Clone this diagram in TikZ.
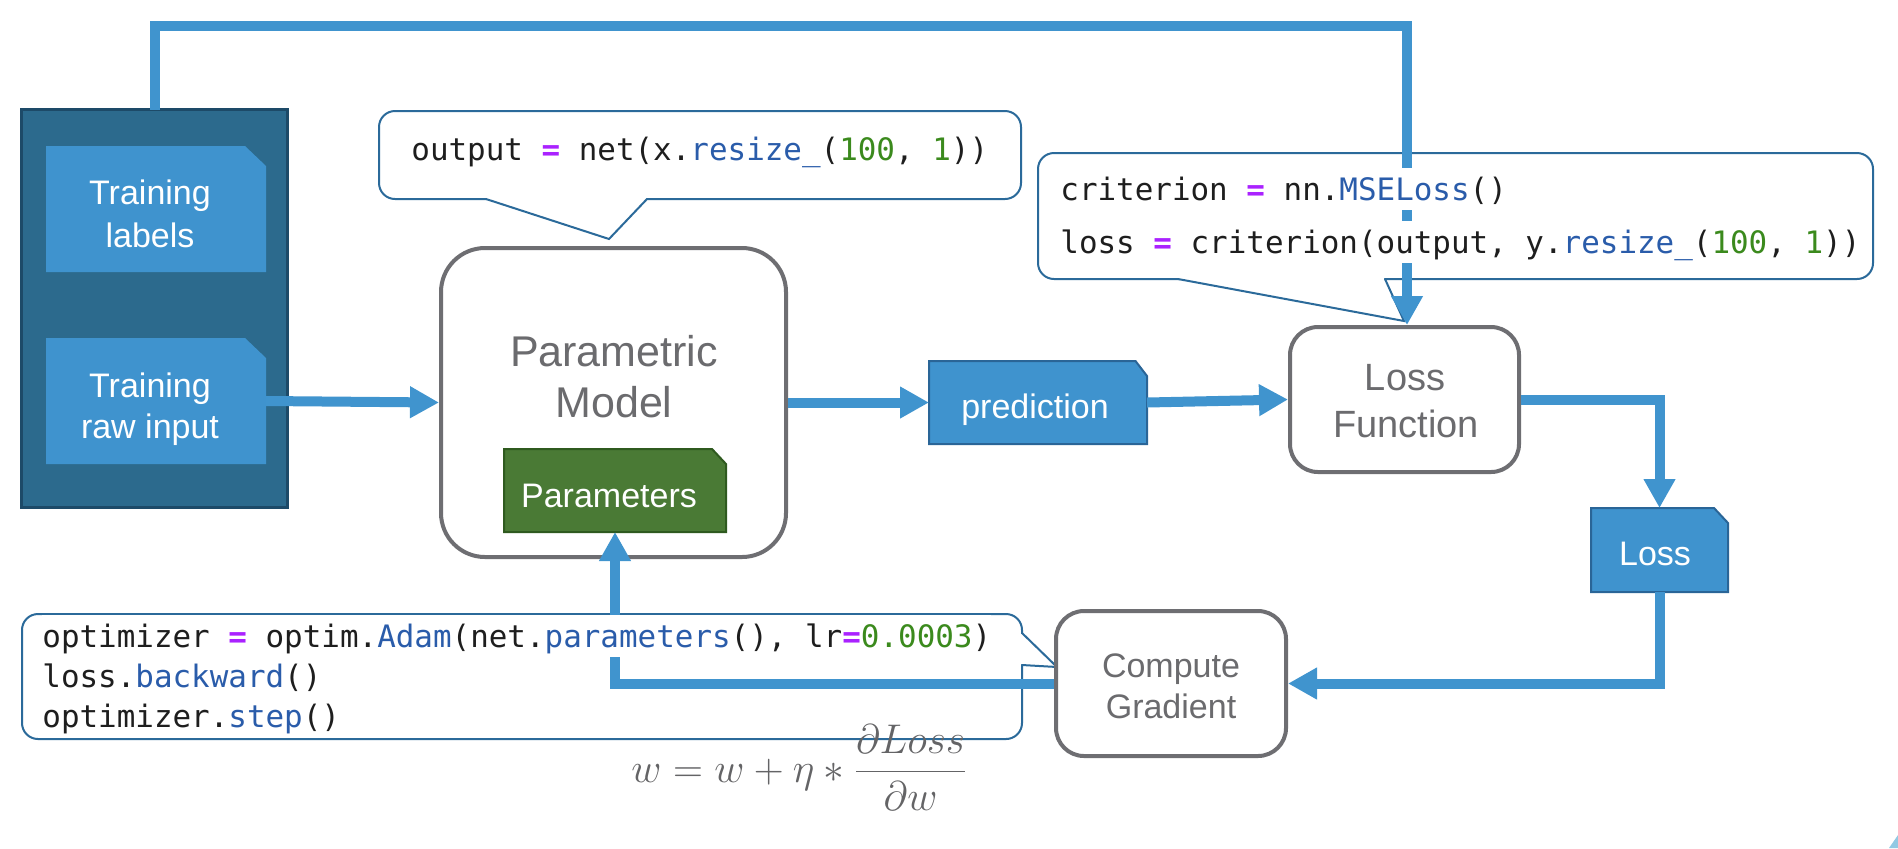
\documentclass[tikz,border=0pt]{standalone}
\usepackage{fontspec}
\setmainfont{Liberation Sans}
\newfontfamily\codefont{DejaVu Sans Mono}
\usetikzlibrary{arrows.meta}
\definecolor{panel}{HTML}{2C6A8D}
\definecolor{panelborder}{HTML}{1D4A68}
\definecolor{boxblue}{HTML}{3F93CE}
\definecolor{boxborder}{HTML}{2A6597}
\definecolor{connblue}{HTML}{4094CE}
\definecolor{grayline}{HTML}{6E6E72}
\definecolor{graytext}{HTML}{6B6B6E}
\definecolor{paramgreen}{HTML}{4A7A35}
\definecolor{paramborder}{HTML}{2F5A1F}
\definecolor{bubble}{HTML}{2B6A9A}
\definecolor{cpurple}{HTML}{AA22FF}
\definecolor{cblue}{HTML}{2A5CAA}
\definecolor{cgreen}{HTML}{3B8A1D}
\definecolor{cblack}{HTML}{1E1E1E}
\definecolor{fgray}{HTML}{646466}
\definecolor{cornerblue}{HTML}{91C9E3}
\newcommand\codeop{\textcolor{cpurple}{\bfseries =}}
\newcommand\codefn[1]{\textcolor{cblue}{#1}}
\newcommand\codenum[1]{\textcolor{cgreen}{#1}}
\newcommand\dogfill[4]{\path[#2] (#1.south west) -- (#1.north west) -- ([xshift=-#3]#1.north east) -- ([yshift=-#4]#1.north east) -- (#1.south east) -- cycle;}
\tikzset{
  conn/.style={draw=connblue, line width=5pt, -{Triangle[length=14.5pt,width=15pt]}},
  anch/.style={shape=rectangle, inner sep=0pt, outer sep=0pt, draw=none},
  gbox/.style={shape=rectangle, draw=grayline, line width=2pt, fill=white, inner sep=0pt},
  bub/.style={draw=bubble, line width=1pt, fill=white, rounded corners=8pt},
  bubline/.style={draw=bubble, line width=1pt},
  code/.style={font=\codefont\fontsize{15.45}{18}\selectfont, text=cblack, anchor=base west, inner xsep=0pt, inner ysep=0.5pt, fill=white, text height=15.5pt, text depth=4.5pt},
  wlbl/.style={font=\fontsize{17}{20}\selectfont, text=white, anchor=base, inner sep=0pt},
  glbl/.style={text=graytext, anchor=base, inner sep=0pt}
}
\begin{document}
\begin{tikzpicture}[x=0.5pt,y=-0.5pt]
\useasboundingbox (0,0) rectangle (1898,848);
% speech bubbles
\draw[bub] (379,111) rectangle (1021,199);
\fill[white] (487,196) -- (487,200) -- (609,239) -- (646,200) -- (646,196) -- cycle;
\draw[bubline] (486,199) -- (609,239) -- (647,199);
\draw[bub] (1038,153) rectangle (1873,279);
\fill[white] (1179,276) -- (1179,280) -- (1404,321) -- (1384,280) -- (1384,276) -- cycle;
\draw[bubline] (1178,279) -- (1404,321) -- (1385,279);
\draw[bub] (22,614) rectangle (1022,739);
\fill[white] (1019,634) -- (1023,634) -- (1057,667) -- (1023,664) -- (1019,664) -- cycle;
\draw[bubline] (1022,633) -- (1057,667) -- (1022,665);
% data panel
\node[anch, fill=panel, draw=panelborder, line width=1.5pt, minimum width=133pt, minimum height=199pt] (data) at (154.5,308.5) {};
\node[anch, minimum width=110pt, minimum height=63pt] (labels) at (156,209) {};
\dogfill{labels}{fill=boxblue}{10.5pt}{10pt}
\node[anch, minimum width=110pt, minimum height=63pt] (raw) at (156,401) {};
\dogfill{raw}{fill=boxblue}{10.5pt}{10pt}
% model
\node[gbox, rounded corners=22pt, minimum width=172.5pt, minimum height=154.5pt] (model) at (613.5,402.5) {};
\node[anch, minimum width=111pt, minimum height=41.5pt] (params) at (615,490.5) {};
\dogfill{params}{fill=paramgreen, draw=paramborder, line width=1pt}{7pt}{7.5pt}
% prediction
\node[anch, minimum width=109pt, minimum height=41.5pt] (pred) at (1038,402.5) {};
\dogfill{pred}{fill=boxblue, draw=boxborder, line width=1pt}{5.75pt}{7.5pt}
% loss function
\node[gbox, rounded corners=14pt, minimum width=114.5pt, minimum height=72.5pt] (lossfn) at (1404.5,399.5) {};
% loss
\node[anch, minimum width=68.5pt, minimum height=42pt] (lossbox) at (1659.5,550) {};
\dogfill{lossbox}{fill=boxblue, draw=boxborder, line width=1pt}{7pt}{7.5pt}
% compute gradient
\node[gbox, rounded corners=14pt, minimum width=115pt, minimum height=72.5pt] (grad) at (1171,683.5) {};
% connectors
\coordinate (topy) at (0,26);
\coordinate (topx) at (1407,0);
\draw[conn] (data.north) -- (data.north |- topy) -- (topx |- topy) -- (topx |- lossfn.north);
\draw[conn] (raw.east) -- (model.west);
\draw[conn] (model.east) -- (pred.west);
\draw[conn] (pred.east) -- (lossfn.west);
\draw[conn] (lossfn.east) -| (lossbox.north);
\draw[conn] (lossbox.south) |- (grad.east);
\draw[conn] (grad.west) -| (params.south);
% code text
\node[code] (c1) at (411,160) {output \codeop{} net(x.\codefn{resize\_}(\codenum{100}, \codenum{1}))};
\node[code] (c2) at (1060,200) {criterion \codeop{} nn.\codefn{MSELoss}()};
\node[code] (c3) at (1060,253) {loss \codeop{} criterion(output, y.\codefn{resize\_}(\codenum{100}, \codenum{1}))};
\node[code] (c4) at (42,647) {optimizer \codeop{} optim.\codefn{Adam}(net.\codefn{parameters}(), lr\codeop\codenum{0.0003})};
\node[code] (c5) at (42,687) {loss.\codefn{backward}()};
\node[code] (c6) at (42,727) {optimizer.\codefn{step}()};
% labels
\node[wlbl] (tl1) at (150,204) {Training};
\node[wlbl] (tl2) at (150,247) {labels};
\node[wlbl] (tr1) at (150,397) {Training};
\node[wlbl] (tr2) at (150,438) {raw input};
\node[wlbl] (predt) at (1035,418) {prediction};
\node[wlbl] (losst) at (1655,565) {Loss};
\node[wlbl] (part) at (609,507) {Parameters};
\node[glbl, font=\fontsize{21.5}{25}\selectfont] (mt1) at (614,366) {Parametric};
\node[glbl, font=\fontsize{21.5}{25}\selectfont] (mt2) at (614,417) {Model};
\node[glbl, font=\fontsize{19}{22}\selectfont] (lf1) at (1405,390) {Loss};
\node[glbl, font=\fontsize{19}{22}\selectfont] (lf2) at (1406,437) {Function};
\node[glbl, font=\fontsize{17}{20}\selectfont] (cg1) at (1171,677) {Compute};
\node[glbl, font=\fontsize{17}{20}\selectfont] (cg2) at (1171,718) {Gradient};
% formula
\node[anchor=base west, text=fgray, font=\fontsize{21.5}{25}\selectfont, inner sep=0pt] (eq) at (631,782) {$\displaystyle w = w + \eta \ast \frac{\partial Loss}{\partial w}$};
% corner mark
\fill[cornerblue] (1889,848) -- (1898,835) -- (1898,848) -- cycle;
\end{tikzpicture}
\end{document}
